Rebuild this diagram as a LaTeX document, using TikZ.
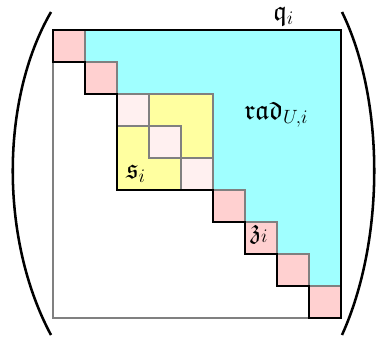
\documentclass[tikz,border=0pt]{standalone}
\usepackage{amssymb}
\definecolor{cyanfill}{RGB}{160,255,255}
\definecolor{pinkfill}{RGB}{255,208,208}
\definecolor{lightpink}{RGB}{255,240,240}
\definecolor{yellowfill}{RGB}{255,255,160}
\definecolor{gridgray}{RGB}{128,128,128}
\tikzset{
  cell/.style={draw=gridgray, line width=0.9pt},
  thick stair/.style={draw=black, line width=1.9pt, line join=miter},
  paren/.style={draw=black, line width=1.9pt, line cap=butt},
  lbl/.style={inner sep=0pt, anchor=base west, font=\fontsize{21}{25}\selectfont}
}
\begin{document}
\begin{tikzpicture}[x=0.75pt,y=-0.75pt]
\useasboundingbox (0,0) rectangle (376,340);
% cyan upper region
\fill[cyanfill] (85,30) -- (341,30) -- (341,286) -- (309,286) -- (309,254) -- (277,254) -- (277,222) -- (245,222) -- (245,190) -- (213,190) -- (213,94) -- (117,94) -- (117,62) -- (85,62) -- cycle;
% outer gray square
\draw[cell] (53,30) rectangle (341,318);
% diagonal pink cells
\foreach \k in {0,1,5,6,7,8} {
  \draw[cell, fill=pinkfill] ({53+32*\k},{30+32*\k}) rectangle ++(32,32);
}
% s block
\draw[cell, fill=yellowfill] (117,94) rectangle (213,190);
\foreach \k in {2,3,4} {
  \draw[cell, fill=lightpink] ({53+32*\k},{30+32*\k}) rectangle ++(32,32);
}
% thick staircase
\draw[thick stair] (53,62) -- (53,30) -- (341,30) -- (341,318) -- (309,318) -- (309,286) -- (277,286) -- (277,254) -- (245,254) -- (245,222) -- (213,222) -- (213,190) -- (117,190) -- (117,94) -- (85,94) -- (85,62) -- cycle;
% parentheses
\draw[paren] (51,12) .. controls (0,100) and (0,240) .. (51,335);
\draw[paren] (342,12) .. controls (385,100) and (385,240) .. (342,335);
% labels
\node[lbl] (q) at (273,20) {$\mathfrak{q}_i$};
\node[lbl] (rad) at (244,119) {$\mathfrak{rad}_{U,i}$};
\node[lbl] (s) at (126,178) {$\mathfrak{s}_i$};
\node[lbl] (z) at (250,238) {$\mathfrak{z}_i$};
\end{tikzpicture}
\end{document}
